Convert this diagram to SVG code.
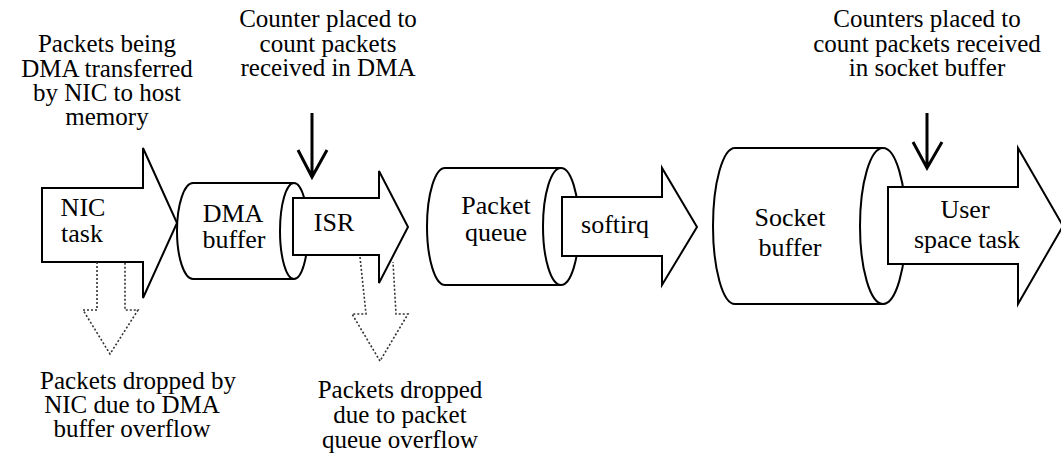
<svg xmlns="http://www.w3.org/2000/svg" width="1061" height="465" viewBox="0 0 1061 465" font-family="Liberation Serif, serif">
  <style>
    .shape { fill: #fff; stroke: #000; stroke-width: 2; stroke-linejoin: miter; }
    .edge { fill: none; stroke: #000; stroke-width: 2; }
    .counter { fill: none; stroke: #000; stroke-width: 3; }
    .drop { fill: none; stroke: #333; stroke-width: 1.6; stroke-dasharray: 2 2; }
    text { font-size: 25px; fill: #000; text-anchor: middle; }
    .node text { font-size: 26px; }
  </style>
  <rect width="1061" height="465" fill="#fff"/>

  <!-- pipeline stages -->
  <g id="nic-task" class="node">
    <path class="shape" d="M42,188 L143,188 L143,148 L177,223 L143,298 L143,262 L42,262 Z"/>
    <text x="83" y="216">NIC</text>
    <text x="82" y="242">task</text>
  </g>

  <g id="dma-buffer" class="node">
    <path class="shape" d="M193,183 L294,183 A14,48 0 0 1 294,279 L193,279 A16,48 0 0 1 193,183 Z"/>
    <path class="edge" d="M294,183 A14,48 0 0 0 294,279"/>
    <text x="233" y="222">DMA</text>
    <text x="234" y="248">buffer</text>
  </g>

  <g id="isr" class="node">
    <path class="shape" d="M293,198 L379,198 L379,171 L408,227 L379,283 L379,255 L293,255 Z"/>
    <text x="334" y="231">ISR</text>
  </g>

  <g id="packet-queue" class="node">
    <path class="shape" d="M445,168 L561,168 A18,58.5 0 0 1 561,285 L445,285 A18,58.5 0 0 1 445,168 Z"/>
    <path class="edge" d="M561,168 A18,58.5 0 0 0 561,285"/>
    <text x="496" y="214">Packet</text>
    <text x="496" y="241">queue</text>
  </g>

  <g id="softirq" class="node">
    <path class="shape" d="M562,197 L662,197 L662,168 L697,227 L662,285 L662,256 L562,256 Z"/>
    <text x="615" y="233">softirq</text>
  </g>

  <g id="socket-buffer" class="node">
    <path class="shape" d="M735,148 L883,148 A23,78 0 0 1 883,304 L735,304 A22,78 0 0 1 735,148 Z"/>
    <path class="edge" d="M883,148 A23,78 0 0 0 883,304"/>
    <text x="790" y="226">Socket</text>
    <text x="790" y="256">buffer</text>
  </g>

  <g id="user-task" class="node">
    <path class="shape" d="M888,187 L1018,187 L1018,148 L1063,226 L1018,304 L1018,264 L888,264 Z"/>
    <text x="965" y="218">User</text>
    <text x="967" y="248">space task</text>
  </g>

  <!-- counters and drop paths -->
  <g id="connectors">
    <path class="counter" d="M312,113 L312,176 M298,150 L312,177 L327,150"/>
    <path class="counter" d="M927,113 L927,167 M913,142 L927,168 L942,142"/>
    <path class="drop" d="M97,262 L97,310 L83,310 L110,354 L138,310 L125,310 L125,262"/>
    <path class="drop" d="M360,257 L366,314 L352,314 L380,361 L408,314 L396,314 L393,262"/>
  </g>

  <!-- annotations -->
  <g id="label-dma-transfer">
    <text x="107" y="52">Packets being</text>
    <text x="107" y="77">DMA transferred</text>
    <text x="107" y="101">by NIC to host</text>
    <text x="107" y="125">memory</text>
  </g>
  <g id="label-dma-counter">
    <text x="328" y="27">Counter placed to</text>
    <text x="328" y="52">count packets</text>
    <text x="328" y="76">received in DMA</text>
  </g>
  <g id="label-socket-counter">
    <text x="927" y="27">Counters placed to</text>
    <text x="927" y="52">count packets received</text>
    <text x="927" y="76">in socket buffer</text>
  </g>
  <g id="label-nic-drop">
    <text x="138" y="389">Packets dropped by</text>
    <text x="132" y="413">NIC due to DMA</text>
    <text x="132" y="437">buffer overflow</text>
  </g>
  <g id="label-queue-drop">
    <text x="400" y="398">Packets dropped</text>
    <text x="400" y="423">due to packet</text>
    <text x="400" y="448">queue overflow</text>
  </g>
</svg>
